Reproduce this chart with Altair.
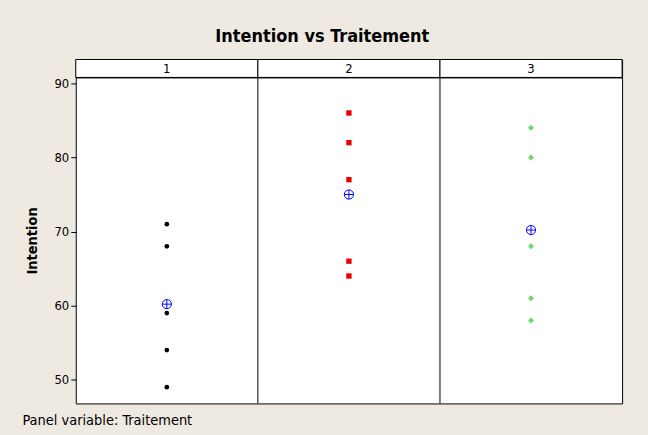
import altair as alt
import pandas as pd

# Observations per treatment group
traitement = ["1"] * 5 + ["2"] * 5 + ["3"] * 5
intention = [71, 68, 59, 54, 49,
             86, 82, 77, 66, 64,
             84, 80, 68, 61, 58]
groups = ["1", "2", "3"]
group_colors = ["#000000", "#EE0000", "#66DD66"]
group_shapes = ["circle", "square", "diamond"]
group_sizes = [22, 36, 45]

df = pd.DataFrame({"Traitement": traitement, "Intention": intention})
heads = pd.DataFrame({"Traitement": groups})

FONT = "DejaVu Sans Condensed"
W = 548
H_MAIN = 327
H_HEAD = 18

xband = alt.Scale(domain=groups, paddingInner=0, paddingOuter=0)
x_plain = alt.X("Traitement:N", scale=xband, axis=None)

# header strip with the panel labels
head_box = alt.Chart(heads).mark_rect(fill="white", stroke="black", strokeWidth=1).encode(
    x=x_plain
)
head_txt = alt.Chart(heads).mark_text(font=FONT, fontSize=13, baseline="middle", color="black").encode(
    x=x_plain, y=alt.value(H_HEAD / 2 + 1), text="Traitement:N"
)
header = alt.layer(head_box, head_txt).properties(width=W, height=H_HEAD)

yscale = alt.Scale(domain=[46.8, 90.8], nice=False, zero=False)
x_main = alt.X(
    "Traitement:N",
    scale=xband,
    axis=alt.Axis(
        labels=False, ticks=False, domain=False, title="Panel variable: Traitement",
        titleAnchor="start", titleAlign="left", titleX=-54, titleY=17,
        titleBaseline="middle", titleFont=FONT, titleFontSize=14.5,
        titleFontWeight="normal", titleColor="black",
    ),
)
y_main = alt.Y(
    "Intention:Q",
    scale=yscale,
    axis=alt.Axis(
        values=[50, 60, 70, 80, 90], title="Intention", tickSize=5,
        tickColor="black", domain=False, labelFont=FONT, labelFontSize=13,
        labelColor="black", labelPadding=2, titleFont=FONT, titleFontSize=14.5,
        titleFontWeight="bold", titleColor="black", titlePadding=15, grid=False,
    ),
)

points = alt.Chart(df).mark_point(filled=True, opacity=1).encode(
    x=x_main,
    y=y_main,
    color=alt.Color("Traitement:N", scale=alt.Scale(domain=groups, range=group_colors), legend=None),
    shape=alt.Shape("Traitement:N", scale=alt.Scale(domain=groups, range=group_shapes), legend=None),
    size=alt.Size("Traitement:N", scale=alt.Scale(domain=groups, range=group_sizes), legend=None),
)

# group mean drawn as a circled cross
circ_cross = "M-1,0A1,1 0 1,0 1,0A1,1 0 1,0 -1,0M-1,0L1,0M0,-1L0,1"
means = alt.Chart(df).mark_point(
    shape=circ_cross, filled=False, color="#0000FF", size=85, strokeWidth=1, opacity=1
).encode(
    x=x_main,
    y=alt.Y("mean(Intention):Q", scale=yscale),
)

dividers = alt.Chart(heads).transform_filter(
    alt.datum.Traitement != "1"
).mark_rule(color="black", strokeWidth=1).encode(
    x=alt.X("Traitement:N", scale=xband, bandPosition=0)
)

main = alt.layer(dividers, points, means).properties(width=W, height=H_MAIN)

chart = alt.vconcat(header, main, spacing=0, bounds="flush").properties(
    title=alt.Title(
        "Intention vs Traitement", font=FONT, fontSize=18, fontWeight="bold",
        color="black", anchor="middle", offset=13,
    ),
    padding={"left": 21, "top": 27, "right": 25, "bottom": 8},
    background="#EEEAE1",
).configure_view(
    stroke="black", strokeWidth=1, fill="white"
).configure_concat(spacing=0)

chart.save("out.html", embed_options={"renderer": "svg", "actions": False})
